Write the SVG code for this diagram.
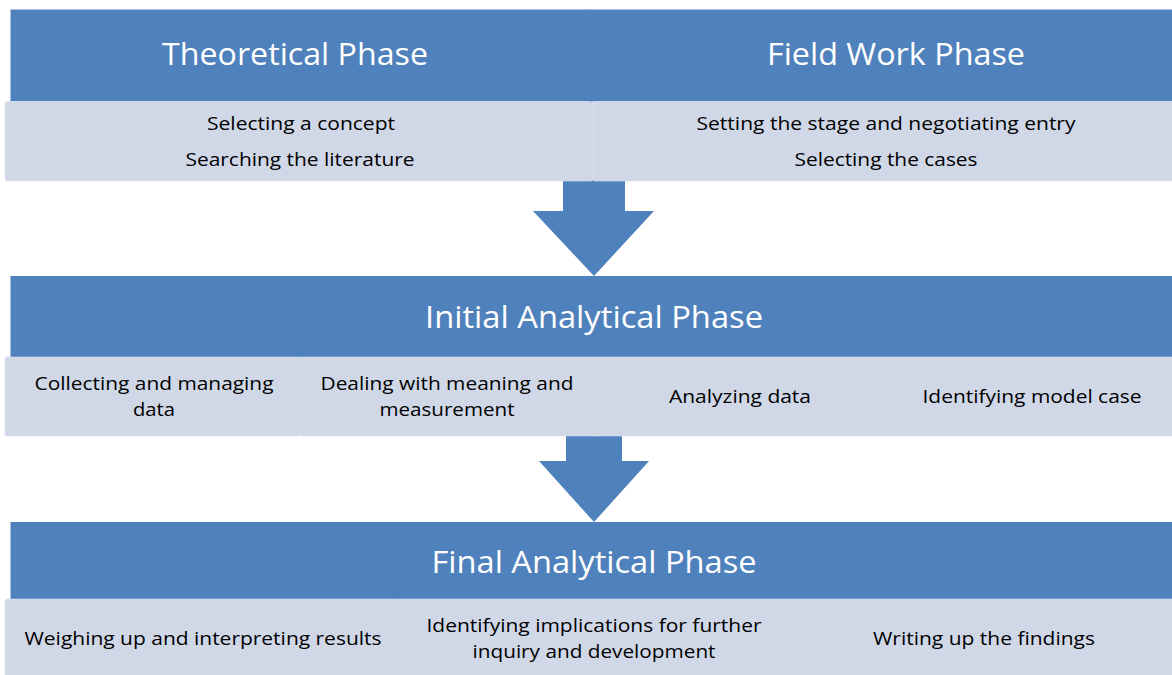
<svg xmlns="http://www.w3.org/2000/svg" width="1172" height="675" viewBox="0 0 1172 675">
  <style>
    .hdr { fill: #4F81BD; }
    .cell { fill: #D0D8E8; stroke: #D8DFEC; stroke-width: 0.6; }
    .arrow { fill: #4F81BD; }
    .ht { font-family: "Open Sans", "Liberation Sans", sans-serif; font-size: 31px; fill: #FFFFFF; text-anchor: middle; }
    .bt { font-family: "Open Sans", "Liberation Sans", sans-serif; font-size: 19px; fill: #000000; text-anchor: middle; }
  </style>
  <rect width="1172" height="675" fill="#FFFFFF"/>

  <g id="connectors">
    <path class="arrow" d="M563,180 L625,180 L625,211 L654,211 L594,276 L533,211 L563,211 Z"/>
    <path class="arrow" d="M566,435 L622,435 L622,461 L649,461 L594,522 L539,461 L566,461 Z"/>
  </g>

  <g id="theoretical-phase">
    <rect class="hdr" x="10.5" y="9.5" width="580" height="92"/>
    <rect class="cell" x="5" y="101.5" width="588" height="79.5" rx="2"/>
    <text class="ht" x="295" y="65" textLength="266" lengthAdjust="spacingAndGlyphs">Theoretical Phase</text>
    <text class="bt" x="301" y="130" textLength="188" lengthAdjust="spacingAndGlyphs">Selecting a concept</text>
    <text class="bt" x="300" y="166" textLength="229" lengthAdjust="spacingAndGlyphs">Searching the literature</text>
  </g>

  <g id="field-work-phase">
    <rect class="hdr" x="590" y="9.5" width="590" height="92"/>
    <rect class="cell" x="593" y="101.5" width="590" height="79.5" rx="2"/>
    <text class="ht" x="896" y="65" textLength="258" lengthAdjust="spacingAndGlyphs">Field Work Phase</text>
    <text class="bt" x="886" y="130" textLength="379" lengthAdjust="spacingAndGlyphs">Setting the stage and negotiating entry</text>
    <text class="bt" x="886" y="166" textLength="183" lengthAdjust="spacingAndGlyphs">Selecting the cases</text>
  </g>

  <g id="initial-analytical-phase">
    <rect class="hdr" x="10.5" y="276" width="1170" height="81.5"/>
    <rect class="cell" x="5" y="357" width="296" height="79" rx="2"/>
    <rect class="cell" x="301" y="357" width="293" height="79"/>
    <rect class="cell" x="594" y="357" width="293" height="79"/>
    <rect class="cell" x="887" y="357" width="293" height="79"/>
    <text class="ht" x="594" y="328" textLength="338" lengthAdjust="spacingAndGlyphs">Initial Analytical Phase</text>
    <text class="bt" x="154" y="390" textLength="239" lengthAdjust="spacingAndGlyphs">Collecting and managing</text>
    <text class="bt" x="154" y="416" textLength="42" lengthAdjust="spacingAndGlyphs">data</text>
    <text class="bt" x="447" y="390" textLength="253" lengthAdjust="spacingAndGlyphs">Dealing with meaning and</text>
    <text class="bt" x="447" y="416" textLength="135" lengthAdjust="spacingAndGlyphs">measurement</text>
    <text class="bt" x="740" y="403" textLength="142" lengthAdjust="spacingAndGlyphs">Analyzing data</text>
    <text class="bt" x="1032" y="403" textLength="219" lengthAdjust="spacingAndGlyphs">Identifying model case</text>
  </g>

  <g id="final-analytical-phase">
    <rect class="hdr" x="10.5" y="522" width="1170" height="77.5"/>
    <rect class="cell" x="5" y="599" width="393" height="80" rx="2"/>
    <rect class="cell" x="398" y="599" width="391" height="80"/>
    <rect class="cell" x="789" y="599" width="391" height="80"/>
    <text class="ht" x="594" y="573" textLength="325" lengthAdjust="spacingAndGlyphs">Final Analytical Phase</text>
    <text class="bt" x="203" y="645" textLength="357" lengthAdjust="spacingAndGlyphs">Weighing up and interpreting results</text>
    <text class="bt" x="594" y="632" textLength="335" lengthAdjust="spacingAndGlyphs">Identifying implications for further</text>
    <text class="bt" x="594" y="658" textLength="243" lengthAdjust="spacingAndGlyphs">inquiry and development</text>
    <text class="bt" x="984" y="645" textLength="222" lengthAdjust="spacingAndGlyphs">Writing up the findings</text>
  </g>
</svg>
